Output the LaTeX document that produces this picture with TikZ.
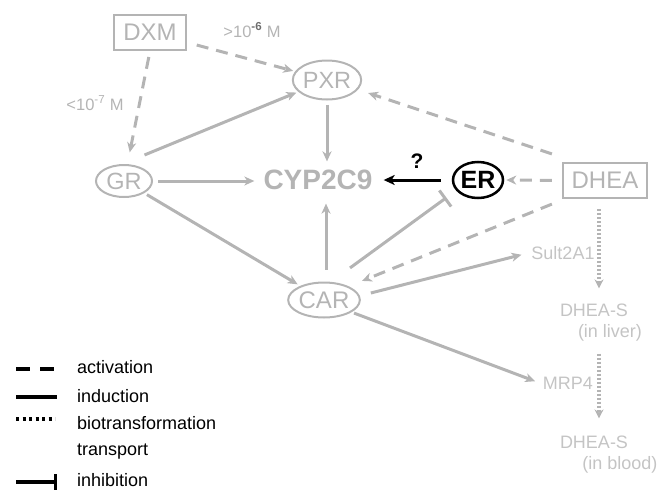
\documentclass[tikz,border=0pt]{standalone}
\usepackage{fontspec}
\setmainfont{Liberation Sans}
\usetikzlibrary{shapes.geometric,arrows.meta,calc}
\definecolor{ngray}{RGB}{180,180,180}
\definecolor{lgray}{RGB}{196,196,196}
\definecolor{dgray}{RGB}{110,110,110}
\tikzset{
  gnode/.style={ellipse,draw=ngray,line width=2pt,text=ngray,inner sep=0pt,font=\fontsize{23.5}{25}\selectfont},
  gbox/.style={rectangle,draw=ngray,line width=2.2pt,text=ngray,inner sep=0pt,font=\fontsize{24}{26}\selectfont},
  smalltext/.style={text=lgray,inner sep=3pt,font=\fontsize{18}{20}\selectfont},
  legtext/.style={anchor=west,inner sep=0pt,font=\fontsize{18}{20}\selectfont},
  gtip/.style={-{Stealth[length=10pt,width=9pt,inset=3pt]}},
  induct/.style={draw=ngray,line width=3pt,gtip},
  activ/.style={draw=ngray,line width=3pt,dash pattern=on 12pt off 8pt,gtip},
  biot/.style={draw=ngray,line width=3.2pt,dash pattern=on 2pt off 2pt,-{Stealth[length=9pt,width=9pt,inset=3pt]}},
  inhib/.style={draw=ngray,line width=3pt,-{Bar[width=20pt,line width=3pt]}},
}
\begin{document}
\begin{tikzpicture}[x=1pt,y=-1pt]
\useasboundingbox (0,0) rectangle (659,490);
% nodes
\node[gbox,minimum width=72pt,minimum height=35pt] (dxm) at (150,32.5) {DXM};
\node[gnode,minimum width=63pt,minimum height=39pt] (pxr) at (327,80) {PXR};
\node[gnode,minimum width=56pt,minimum height=32pt] (gr) at (124,181) {GR};
\node[text=ngray,inner sep=3pt,font=\fontsize{28}{30}\selectfont\bfseries] (cyp) at (318,179.5) {CYP2C9};
\node[ellipse,draw=black,line width=2.5pt,inner sep=0pt,minimum width=50pt,minimum height=36pt,font=\fontsize{25}{27}\selectfont\bfseries] (er) at (478,180) {ER};
\node[gbox,minimum width=84pt,minimum height=35pt] (dhea) at (605,180.5) {DHEA};
\node[gnode,minimum width=65pt,minimum height=35pt,font=\fontsize{24}{26}\selectfont] (car) at (324,300) {CAR};
\node[smalltext] (sult) at (563,253) {Sult2A1};
\node[smalltext] (mrp) at (568,383) {MRP4};
\node[smalltext] (dheasl) at (594,310) {DHEA-S};
\node[smalltext] (inliver) at (610,333) {(in liver)};
\node[smalltext] (dheasb) at (594,442) {DHEA-S};
\node[smalltext] (inblood) at (620,465) {(in blood)};
\node[text=ngray,font=\fontsize{16.5}{18}\selectfont] (lab6) at (252,30) {>10\textsuperscript{\textcolor{dgray}{\bfseries -6}} M};
\node[text=ngray,font=\fontsize{16.5}{18}\selectfont] (lab7) at (95,103) {<10\textsuperscript{-7} M};
\node[font=\fontsize{21}{23}\selectfont\bfseries] (q) at (417,161) {?};
% connectors
\draw[activ,shorten <=10pt,shorten >=2pt] (dxm) -- (pxr);
\draw[activ,shorten <=6pt,shorten >=12pt] (dxm.south) -- (gr);
\draw[induct,shorten >=2pt] ($(gr.north east)+(0,-14)$) -- (pxr);
\draw[induct,shorten <=4pt,shorten >=5pt] (pxr.south) -- (pxr.south |- cyp.north);
\draw[induct,shorten <=5pt,shorten >=6pt] (gr.east) -- (gr.east -| cyp.west);
\draw[induct,shorten <=3pt,shorten >=3pt] (gr) -- (car);
\draw[induct,shorten <=12pt,shorten >=11pt] ([xshift=2pt]car.north) -- ([xshift=2pt]car.north |- cyp.south);
\draw[line width=3pt,-{Stealth[length=11pt,width=10pt,inset=3pt]},shorten <=11pt,shorten >=8pt] (er.west) -- (er.west -| cyp.east);
\draw[activ,shorten <=10pt,shorten >=2pt] (dhea.west) -- (er.east);
\draw[activ] ($(dhea.north west)+(-10,-8)$) -- ($(pxr.east)+(6,13)$);
\draw[activ] ($(dhea.south west)+(-10,5)$) -- ($(car.north east)+(12,-6)$);
\draw[inhib] ($(car.north east)+(0,-19)$) -- ($(er.south west)+(-13,4)$);
\draw[induct,shorten >=7pt] ($(car.east)+(10,-7)$) -- (sult.west);
\draw[induct,shorten >=5pt] ($(car.south east)+(4,0)$) -- (mrp.west);
\coordinate (d1) at ($(dhea.south)+(-6,10)$);
\draw[biot,shorten >=12pt] (d1) -- (d1 |- dheasl.north);
\coordinate (d2) at ($(inliver.south)+(-11,9)$);
\draw[biot,shorten >=14pt] (d2) -- (d2 |- dheasb.north);
% legend
\coordinate (la1) at (16,369); \coordinate (la2) at (55,369);
\coordinate (lb1) at (16,397); \coordinate (lb2) at (57,397);
\coordinate (lc1) at (16,419); \coordinate (lc2) at (55,419);
\coordinate (le1) at (16,482); \coordinate (le2) at (57,482);
\draw[line width=3.5pt,dash pattern=on 14pt off 10pt] (la1) -- (la2);
\draw[line width=3.5pt] (lb1) -- (lb2);
\draw[line width=3.5pt,dash pattern=on 3pt off 3.5pt] (lc1) -- (lc2);
\draw[line width=3.5pt,-{Bar[width=16pt,line width=3pt]}] (le1) -- (le2);
\node[legtext] (t1) at (77,367) {activation};
\node[legtext] (t2) at (77,396) {induction};
\node[legtext] (t3) at (77,423) {biotransformation};
\node[legtext] (t4) at (77,452) {transport};
\node[legtext] (t5) at (77,480) {inhibition};
\end{tikzpicture}
\end{document}
